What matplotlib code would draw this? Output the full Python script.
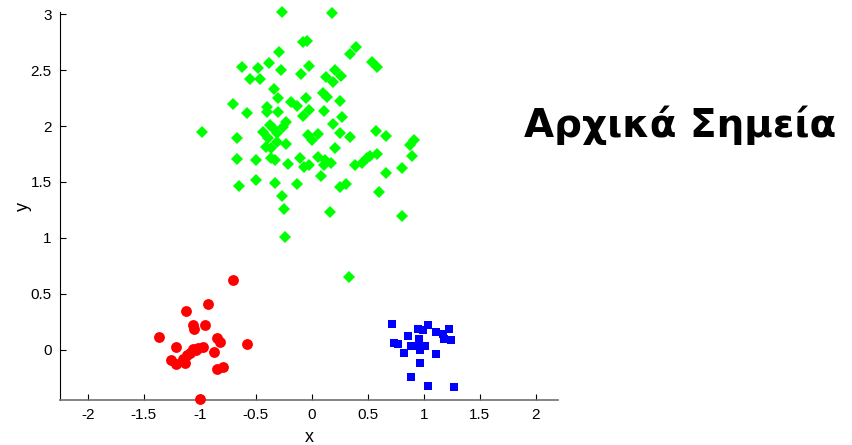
import matplotlib.pyplot as plt

plt.rcParams['font.family'] = ['Liberation Sans', 'DejaVu Sans']
plt.rcParams['axes.unicode_minus'] = False

# class 1 (red circles)
red_x = [-0.702, -1.125, -0.926, -1.065, -1.051, -0.955, -1.369, -0.845, -0.821, -0.580,
         -1.217, -1.060, -1.015, -0.970, -1.089, -1.030, -0.875, -1.259, -1.214, -1.149,
         -1.134, -1.113, -0.845, -0.797, -1.000]
red_y = [0.625, 0.348, 0.408, 0.223, 0.188, 0.223, 0.110, 0.104, 0.069, 0.047,
         0.021, 0.006, 0.015, 0.024, -0.030, -0.006, -0.021, -0.089, -0.128, -0.083,
         -0.119, -0.045, -0.172, -0.158, -0.440]

# class 2 (green diamonds)
green_x = [-0.270, 0.185, -0.078, -0.042, -0.295, 0.339, 0.393, 0.542, 0.583, -0.622,
           -0.479, -0.384, -0.277, -0.554, -0.464, -0.092, -0.024, 0.131, 0.212, 0.265,
           0.190, -0.339, -0.301, -0.703, -0.578, -0.404, -0.396, -0.306, -0.181, -0.131,
           -0.047, -0.078, -0.024, 0.101, 0.137, 0.256, 0.107, 0.274, 0.190, -0.985,
           -0.667, -0.435, -0.375, -0.390, -0.315, -0.226, -0.256, -0.346, -0.033, 0.000,
           0.056, 0.250, 0.339, 0.578, 0.661, 0.875, 0.911, -0.411, -0.360, -0.232,
           0.205, -0.670, -0.500, -0.360, -0.330, -0.212, -0.107, -0.071, -0.024, 0.056,
           0.116, 0.110, 0.174, 0.384, 0.446, 0.496, 0.583, 0.661, 0.810, 0.899,
           -0.649, -0.500, -0.330, -0.131, 0.080, 0.256, 0.310, 0.601, -0.262, -0.250,
           0.161, 0.810, -0.241, 0.330, 0.518, -0.315]
green_y = [3.020, 3.015, 2.753, 2.762, 2.663, 2.643, 2.703, 2.569, 2.530, 2.524,
           2.515, 2.560, 2.500, 2.420, 2.420, 2.464, 2.536, 2.435, 2.500, 2.446,
           2.396, 2.328, 2.247, 2.194, 2.119, 2.167, 2.128, 2.122, 2.217, 2.179,
           2.253, 2.089, 2.143, 2.292, 2.262, 2.226, 2.137, 2.083, 2.015, 1.944,
           1.890, 1.949, 2.009, 1.890, 1.935, 2.036, 1.994, 1.979, 1.920, 1.879,
           1.929, 1.940, 1.899, 1.958, 1.911, 1.835, 1.871, 1.815, 1.801, 1.844,
           1.804, 1.701, 1.696, 1.717, 1.696, 1.665, 1.712, 1.637, 1.649, 1.721,
           1.696, 1.652, 1.670, 1.656, 1.667, 1.714, 1.746, 1.576, 1.628, 1.732,
           1.464, 1.522, 1.491, 1.485, 1.549, 1.455, 1.482, 1.413, 1.375, 1.256,
           1.235, 1.199, 1.006, 0.646, 1.732, 1.860]

# class 3 (blue squares)
blue_x = [0.714, 0.949, 0.994, 1.039, 1.223, 1.113, 1.173, 1.179, 1.247, 0.863,
          0.735, 0.771, 0.958, 0.890, 0.958, 1.009, 0.964, 0.827, 1.107, 0.967,
          0.884, 1.039, 1.268]
blue_y = [0.232, 0.188, 0.179, 0.217, 0.188, 0.155, 0.140, 0.098, 0.089, 0.119,
          0.060, 0.051, 0.095, 0.036, 0.030, 0.030, 0.000, -0.030, -0.039, -0.119,
          -0.244, -0.321, -0.330]

xticks = [-2, -1.5, -1, -0.5, 0, 0.5, 1, 1.5, 2]
yticks = [0, 0.5, 1, 1.5, 2, 2.5, 3]

fig = plt.figure(figsize=(8.53, 4.45), dpi=100)
ax = fig.add_axes([0.0703, 0.1011, 0.5838, 0.8719])

ax.plot(red_x, red_y, 'o', color='#ff0000', markersize=7.8, markeredgewidth=0,
        clip_on=False, zorder=3)
ax.plot(green_x, green_y, 'D', color='#00ff00', markersize=6.5, markeredgewidth=0,
        clip_on=False, zorder=3)
ax.plot(blue_x, blue_y, 's', color='#0000ff', markersize=6.3, markeredgewidth=0,
        clip_on=False, zorder=3)

ax.set_xlim(-2.25, 2.2)
ax.set_ylim(-0.45, 3.02)
ax.set_xticks(xticks)
ax.set_xticklabels([f'{t:g}' for t in xticks])
ax.set_yticks(yticks)
ax.set_yticklabels([f'{t:g}' for t in yticks])
ax.tick_params(direction='in', length=4, width=0.8, labelsize=11, pad=6)

ax.spines['top'].set_visible(False)
ax.spines['right'].set_visible(False)
ax.spines['left'].set_color('black')
ax.spines['bottom'].set_color('#707070')
ax.spines['bottom'].set_linewidth(1.2)

ax.set_xlabel('x', fontsize=13)
ax.set_ylabel('y', fontsize=13)
ax.xaxis.set_label_coords(0.5, -0.075)
ax.yaxis.set_label_coords(-0.056, 0.5)

fig.text(0.614, 0.692, 'Αρχικά Σημεία', fontsize=28, fontweight='bold',
         family=['DejaVu Sans'], ha='left', va='baseline')

fig.savefig('out.png', dpi=100)
